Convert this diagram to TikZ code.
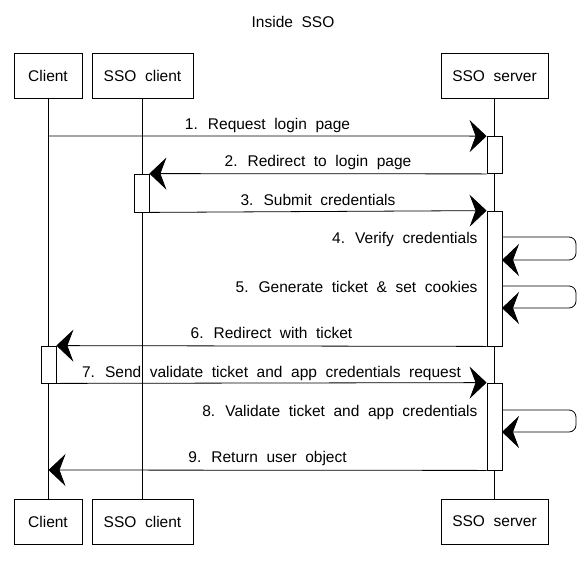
\documentclass[tikz,border=0pt]{standalone}
\usepackage{fontspec}
\setmainfont{Liberation Sans}[WordSpace=2]
\usetikzlibrary{arrows.meta}
\begin{document}
\begin{tikzpicture}[x=1pt, y=-1pt,
    actor/.style={draw, line width=0.8pt, minimum height=45pt, inner sep=0pt, font=\fontsize{15.5}{18}\selectfont},
    life/.style={line width=0.6pt},
    act/.style={draw, fill=white, line width=0.8pt, minimum width=15pt, inner sep=0pt},
    msg/.style={line width=0.8pt, -{Stealth[length=17pt, width=32pt, inset=6pt]}},
    lbl/.style={font=\fontsize{15.5}{18}\selectfont, anchor=base}]

      \useasboundingbox (0,0) rectangle (586,568);

      % title
      \node[lbl] (title) at (293,27) {Inside SSO};

      % participants (top and bottom)
      \node[actor, minimum width=68pt] (cliT) at (48,75.5) {Client};
      \node[actor, minimum width=101pt] (ssocT) at (142.5,75.5) {SSO client};
      \node[actor, minimum width=107pt] (srvT) at (494.5,76) {SSO server};
      \node[actor, minimum width=68pt] (cliB) at (48,521.5) {Client};
      \node[actor, minimum width=101pt] (ssocB) at (142.5,521.5) {SSO client};
      \node[actor, minimum width=107pt] (srvB) at (494.5,521.5) {SSO server};

      % lifelines
      \draw[life] (cliT) -- (cliB);
      \draw[life] (ssocT) -- (ssocB);
      \draw[life] (srvT) -- (srvB);

      % activation bars
      \node[act, minimum height=37pt] (s1) at (494.5,155) {};
      \node[act, minimum height=38pt] (a1) at (141.5,174+19) {};
      \node[act, minimum height=135pt] (s2) at (494.5,211+67.5) {};
      \node[act, minimum height=37pt] (c1) at (48.5,346+18.5) {};
      \node[act, minimum height=87pt] (s3) at (494.5,383+43.5) {};

      % free ends on the client lifeline
      \coordinate (cli1) at (48.5,136);
      \coordinate (cli9) at (48.5,470);

      % messages
      \draw[msg] (cli1) -- (s1.north west) node[lbl, midway, yshift=7pt] {1. Request login page};
      \draw[msg] (s1.south west) -- (a1.north east) node[lbl, midway, yshift=7pt] {2. Redirect to login page};
      \draw[msg] (a1.south east) -- (s2.north west) node[lbl, midway, yshift=6pt] {3. Submit credentials};
      \draw[msg] (s2.south west) -- (c1.north east) node[lbl, midway, yshift=8pt] {6. Redirect with ticket};
      \draw[msg] (c1.south east) -- (s3.north west) node[lbl, midway, yshift=6pt] {7. Send validate ticket and app credentials request};
      \draw[msg] (s3.south west) -- (cli9) node[lbl, midway, yshift=8pt] {9. Return user object};

      % self calls on the server
      \coordinate (v4) at (502,237);
      \coordinate (v5) at (502,286);
      \coordinate (v8) at (502,410);
      \draw[msg, rounded corners=7pt] (v4) -- ++(74,0) -- ++(0,23) -- ++(-74,0);
      \draw[msg, rounded corners=7pt] (v5) -- ++(74,0) -- ++(0,22) -- ++(-74,0);
      \draw[msg, rounded corners=7pt] (v8) -- ++(74,0) -- ++(0,22) -- ++(-74,0);
      \node[lbl, anchor=base east] (l4) at (481,243) {4. Verify credentials};
      \node[lbl, anchor=base east] (l5) at (481,292) {5. Generate ticket \& set cookies};
      \node[lbl, anchor=base east] (l8) at (481,416) {8. Validate ticket and app credentials};

    \end{tikzpicture}
\end{document}
